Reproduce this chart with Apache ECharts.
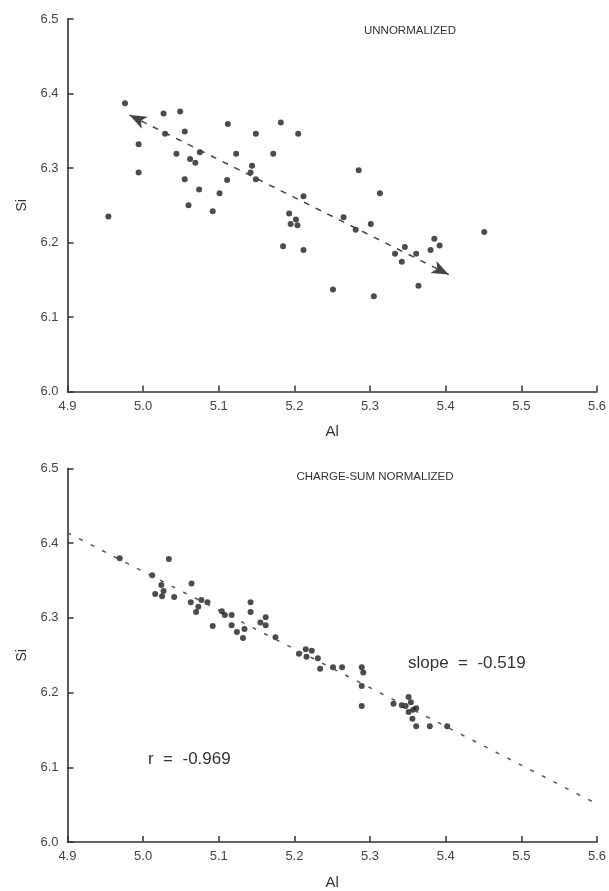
<!DOCTYPE html>
<html>
<head>
<meta charset="utf-8">
<script src="https://cdn.jsdelivr.net/npm/echarts@6/dist/echarts.min.js"></script>
<style>
  html, body { margin: 0; padding: 0; background: #fff; }
</style>
</head>
<body>
<div id="chart1" style="width:609px;height:891px"></div>
<script>
// tick labels shared by both panels
const alTicks = [4.9, 5.0, 5.1, 5.2, 5.3, 5.4, 5.5, 5.6];
const siTicks = [6.0, 6.1, 6.2, 6.3, 6.4, 6.5];

// upper panel: unnormalized analyses
const topAl = [4.976, 5.027, 5.049, 4.994, 5.029, 5.055, 5.112, 5.149, 5.044, 5.062,
  5.069, 5.075, 5.123, 4.994, 5.055, 5.074, 5.101, 5.111, 5.144, 5.142,
  5.149, 5.060, 5.092, 4.954, 5.182, 5.205, 5.172, 5.285, 5.313, 5.212,
  5.193, 5.202, 5.195, 5.204, 5.185, 5.212, 5.265, 5.281, 5.301, 5.346,
  5.333, 5.361, 5.342, 5.385, 5.392, 5.380, 5.451, 5.251, 5.305, 5.364];
const topSi = [6.387, 6.373, 6.376, 6.332, 6.346, 6.349, 6.359, 6.346, 6.319, 6.312,
  6.307, 6.321, 6.319, 6.294, 6.285, 6.271, 6.266, 6.284, 6.303, 6.294,
  6.285, 6.250, 6.242, 6.235, 6.361, 6.346, 6.319, 6.297, 6.266, 6.262,
  6.239, 6.231, 6.225, 6.223, 6.195, 6.190, 6.234, 6.217, 6.225, 6.194,
  6.185, 6.185, 6.174, 6.205, 6.196, 6.190, 6.214, 6.137, 6.128, 6.142];
const meanAl = [5.187];
const meanSi = [6.265];
const arrowAl = [4.982, 5.404];
const arrowSi = [6.371, 6.157];

// lower panel: charge-sum normalized
const botAl = [4.969, 5.012, 5.016, 5.034, 5.024, 5.027, 5.025, 5.041, 5.064, 5.063,
  5.077, 5.085, 5.073, 5.070, 5.092, 5.104, 5.108, 5.117, 5.117, 5.124,
  5.132, 5.134, 5.142, 5.142, 5.155, 5.162, 5.162, 5.175, 5.206, 5.215,
  5.216, 5.223, 5.231, 5.234, 5.251, 5.263, 5.289, 5.291, 5.289, 5.289,
  5.331, 5.342, 5.347, 5.351, 5.354, 5.351, 5.357, 5.361, 5.356, 5.361,
  5.379, 5.402];
const botSi = [6.380, 6.357, 6.332, 6.379, 6.344, 6.336, 6.329, 6.328, 6.346, 6.321,
  6.324, 6.321, 6.315, 6.308, 6.289, 6.309, 6.304, 6.304, 6.290, 6.281,
  6.273, 6.285, 6.321, 6.308, 6.294, 6.301, 6.290, 6.274, 6.252, 6.258,
  6.248, 6.256, 6.246, 6.232, 6.234, 6.234, 6.234, 6.227, 6.209, 6.182,
  6.185, 6.183, 6.182, 6.194, 6.187, 6.174, 6.177, 6.179, 6.165, 6.155,
  6.155, 6.155];
const regAl = [4.9, 5.6];
const regSi = [6.414, 6.051];

const zip = (xs, ys) => xs.map((x, i) => [x, ys[i]]);

const chart = echarts.init(document.getElementById('chart1'));

const axisColor = '#333';
const sans = '"Liberation Sans", Arial, sans-serif';
const labelFont = {
  color: '#444',
  fontFamily: sans,
  fontSize: 13
};
const titleFont = {
  color: '#333',
  fontFamily: '"Liberation Sans Narrow", "Liberation Sans", Arial, sans-serif',
  fontSize: 11.5,
  fontWeight: 'normal'
};

function xAxisFor(gridIndex) {
  return {
    gridIndex: gridIndex,
    type: 'value',
    min: alTicks[0],
    max: alTicks[alTicks.length - 1],
    interval: 0.1,
    name: 'Al',
    nameLocation: 'middle',
    nameGap: 33,
    nameTextStyle: { color: '#333', fontFamily: sans, fontSize: 15 },
    axisLine: { lineStyle: { color: axisColor, width: 1.6 } },
    axisTick: { inside: true, length: 6, lineStyle: { color: axisColor, width: 1.5 } },
    axisLabel: Object.assign({ margin: 8, formatter: v => v.toFixed(1) }, labelFont),
    splitLine: { show: false }
  };
}

function yAxisFor(gridIndex) {
  return {
    gridIndex: gridIndex,
    type: 'value',
    min: siTicks[0],
    max: siTicks[siTicks.length - 1],
    interval: 0.1,
    name: 'Si',
    nameLocation: 'middle',
    nameGap: 38,
    nameTextStyle: { color: '#333', fontFamily: sans, fontSize: 14 },
    axisLine: { onZero: false, lineStyle: { color: axisColor, width: 1.6 } },
    axisTick: { inside: true, length: 6, lineStyle: { color: axisColor, width: 1.5 } },
    axisLabel: Object.assign({ margin: 9, formatter: v => v.toFixed(1) }, labelFont),
    splitLine: { show: false }
  };
}

chart.setOption({
  animation: false,
  backgroundColor: '#fff',
  title: [
    {
      text: 'UNNORMALIZED',
      left: 405, top: 20, textAlign: 'center',
      textStyle: titleFont
    },
    {
      text: 'CHARGE-SUM NORMALIZED',
      left: 370, top: 466, textAlign: 'center',
      textStyle: titleFont
    }
  ],
  grid: [
    { left: 67.5, top: 19, width: 531, height: 372.5 },
    { left: 67.5, top: 468.5, width: 531, height: 375 }
  ],
  xAxis: [xAxisFor(0), xAxisFor(1)],
  yAxis: [yAxisFor(0), yAxisFor(1)],
  graphic: [
    {
      type: 'text', left: 408, top: 655,
      style: { text: 'slope  =  -0.519', fill: '#333', font: '17px "Liberation Sans", Arial, sans-serif' }
    },
    {
      type: 'text', left: 148, top: 751,
      style: { text: 'r  =  -0.969', fill: '#333', font: '17px "Liberation Sans", Arial, sans-serif' }
    }
  ],
  series: [
    {
      name: 'unnormalized',
      type: 'scatter',
      xAxisIndex: 0, yAxisIndex: 0,
      symbolSize: 6,
      itemStyle: { color: '#1f1f1f' },
      data: zip(topAl, topSi),
      markLine: {
        silent: true,
        symbol: ['arrow', 'arrow'],
        symbolSize: [10, 17],
        label: { show: false },
        lineStyle: { color: '#444', type: [6, 7], width: 1.5 },
        data: [[
          { coord: [arrowAl[0], arrowSi[0]] },
          { coord: [arrowAl[1], arrowSi[1]] }
        ]]
      }
    },
    {
      name: 'mean',
      type: 'scatter',
      xAxisIndex: 0, yAxisIndex: 0,
      symbol: 'emptyCircle',
      symbolSize: 7,
      itemStyle: { color: '#fff', borderColor: '#333', borderWidth: 1.5 },
      data: zip(meanAl, meanSi)
    },
    {
      name: 'normalized',
      type: 'scatter',
      xAxisIndex: 1, yAxisIndex: 1,
      symbolSize: 6,
      itemStyle: { color: '#1f1f1f' },
      data: zip(botAl, botSi)
    },
    {
      name: 'regression',
      type: 'line',
      xAxisIndex: 1, yAxisIndex: 1,
      symbol: 'none',
      lineStyle: { color: '#555', type: [4, 9], width: 1.5 },
      data: zip(regAl, regSi)
    }
  ]
});
</script>
</body>
</html>
